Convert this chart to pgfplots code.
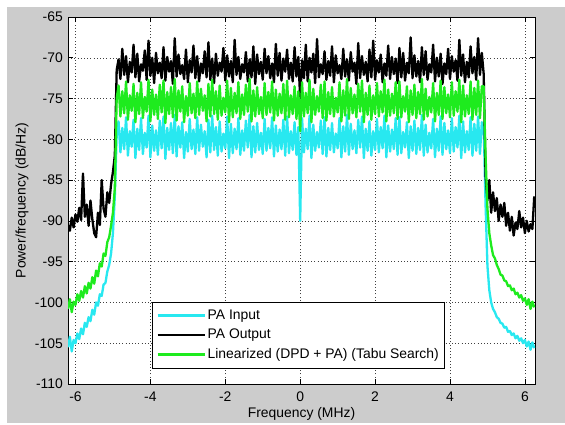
\documentclass[border=0pt]{standalone}
\usepackage{fontspec}
\setmainfont{Liberation Sans}
\usepackage{pgfplots}
\usepackage{pgfplotstable}
\pgfplotsset{compat=1.18}
\definecolor{figgray}{RGB}{204,204,204}
\definecolor{mcyan}{RGB}{40,232,240}
\definecolor{mgreen}{RGB}{30,235,30}
\newcommand{\mfont}{\fontsize{13.9bp}{16bp}\selectfont}
\pgfplotstableread{
x c b g
-6.20 -105.5 -90.5 -100.8
-6.15 -104.2 -91.2 -99.6
-6.10 -106.0 -89.6 -101.2
-6.05 -104.6 -90.8 -99.9
-6.00 -105.0 -89.2 -100.3
-5.95 -103.8 -90.1 -99.0
-5.90 -104.5 -88.4 -99.8
-5.85 -103.2 -89.9 -98.6
-5.80 -103.9 -84.2 -99.4
-5.75 -102.5 -89.5 -98.0
-5.70 -103.0 -88.0 -98.9
-5.65 -101.8 -90.6 -97.6
-5.60 -102.3 -87.5 -98.3
-5.55 -100.9 -89.8 -96.9
-5.50 -101.5 -91.5 -97.7
-5.45 -100.0 -92.0 -96.1
-5.40 -100.4 -89.0 -96.8
-5.35 -99.0 -90.5 -95.2
-5.30 -99.2 -85.0 -95.6
-5.25 -97.8 -88.5 -94.0
-5.20 -97.6 -89.5 -94.3
-5.15 -96.2 -86.5 -92.6
-5.10 -95.4 -87.8 -92.0
-5.05 -94.0 -85.5 -90.6
-5.00 -91.5 -84.0 -89.0
-4.95 -87.0 -82.0 -86.0
-4.90 -79.5 -71.5 -75.0
-4.85 -77.8 -70.2 -73.4
-4.80 -81.6 -72.6 -77.2
-4.75 -78.6 -68.9 -74.1
-4.70 -81.2 -72.1 -76.8
-4.65 -77.3 -69.8 -72.9
-4.60 -82.0 -73.0 -77.6
-4.55 -79.0 -70.5 -74.6
-4.50 -80.9 -71.8 -76.5
-4.45 -77.6 -68.4 -73.2
-4.40 -82.3 -72.4 -77.9
-4.35 -78.7 -69.5 -74.3
-4.30 -81.3 -72.9 -76.9
-4.25 -77.4 -70.8 -73.0
-4.20 -81.8 -71.6 -77.4
-4.15 -79.2 -69.1 -74.8
-4.10 -81.0 -72.7 -76.6
-4.05 -77.1 -67.9 -72.7
-4.00 -82.2 -72.2 -77.8
-3.95 -78.3 -70.0 -73.9
-3.90 -81.4 -73.1 -77.0
-3.85 -78.9 -69.4 -74.5
-3.80 -81.9 -71.9 -77.5
-3.75 -77.7 -70.6 -73.3
-3.70 -81.1 -72.5 -76.7
-3.65 -77.2 -68.7 -72.8
-3.60 -82.4 -72.8 -78.0
-3.55 -78.6 -69.9 -74.2
-3.50 -81.3 -71.7 -76.9
-3.45 -78.0 -70.4 -73.6
-3.40 -81.7 -73.2 -77.3
-3.35 -77.0 -67.6 -72.6
-3.30 -82.1 -72.3 -77.7
-3.25 -78.4 -69.6 -74.0
-3.20 -81.0 -72.0 -76.6
-3.15 -77.9 -70.9 -73.5
-3.10 -82.3 -72.6 -77.9
-3.05 -79.1 -69.0 -74.7
-3.00 -81.5 -73.0 -77.1
-2.95 -77.5 -70.3 -73.1
-2.90 -81.2 -71.8 -76.8
-2.85 -78.8 -68.5 -74.4
-2.80 -81.8 -72.5 -77.4
-2.75 -77.3 -69.8 -72.9
-2.70 -81.4 -72.9 -77.0
-2.65 -78.2 -70.7 -73.8
-2.60 -80.9 -71.9 -76.5
-2.55 -79.0 -69.2 -74.6
-2.50 -82.2 -72.4 -77.8
-2.45 -77.6 -68.1 -73.2
-2.40 -81.6 -72.7 -77.2
-2.35 -77.1 -70.1 -72.7
-2.30 -81.3 -73.1 -76.9
-2.25 -78.5 -69.5 -74.1
-2.20 -82.0 -72.2 -77.6
-2.15 -77.8 -70.6 -73.4
-2.10 -81.5 -71.7 -77.1
-2.05 -79.3 -68.8 -74.9
-2.00 -81.1 -72.8 -76.7
-1.95 -77.2 -69.7 -72.8
-1.90 -82.3 -72.3 -77.9
-1.85 -78.1 -70.4 -73.7
-1.80 -81.7 -73.0 -77.3
-1.75 -78.7 -67.8 -74.3
-1.70 -81.2 -72.1 -76.8
-1.65 -77.4 -69.9 -73.0
-1.60 -81.9 -72.6 -77.5
-1.55 -78.9 -70.8 -74.5
-1.50 -81.4 -71.8 -77.0
-1.45 -77.7 -69.3 -73.3
-1.40 -81.0 -72.9 -76.6
-1.35 -77.0 -70.2 -72.6
-1.30 -82.2 -72.4 -77.8
-1.25 -78.4 -68.6 -74.0
-1.20 -81.6 -73.2 -77.2
-1.15 -78.0 -69.6 -73.6
-1.10 -81.3 -72.0 -76.9
-1.05 -79.2 -70.5 -74.8
-1.00 -81.8 -72.7 -77.4
-0.95 -77.5 -68.9 -73.1
-0.90 -81.4 -71.9 -77.0
-0.85 -78.6 -69.8 -74.2
-0.80 -81.1 -72.5 -76.7
-0.75 -77.3 -70.7 -72.9
-0.70 -82.1 -73.0 -77.7
-0.65 -78.3 -68.3 -73.9
-0.60 -81.5 -72.2 -77.1
-0.55 -78.8 -69.4 -74.4
-0.50 -81.2 -72.8 -76.8
-0.45 -77.6 -70.1 -73.2
-0.40 -82.0 -71.7 -77.6
-0.35 -77.2 -69.0 -72.8
-0.30 -81.7 -72.6 -77.3
-0.25 -79.0 -70.6 -74.6
-0.20 -81.3 -72.9 -76.9
-0.15 -77.9 -68.7 -73.5
-0.10 -81.9 -72.3 -77.5
-0.05 -78.5 -69.9 -74.1
0.00 -90.0 -75.0 -79.0
0.05 -77.4 -70.3 -73.0
0.10 -81.6 -72.5 -77.2
0.15 -78.7 -68.4 -74.3
0.20 -81.2 -72.9 -76.8
0.25 -77.1 -70.0 -72.7
0.30 -82.3 -71.8 -77.9
0.35 -78.2 -69.5 -73.8
0.40 -81.4 -73.1 -77.0
0.45 -79.1 -67.7 -74.7
0.50 -81.0 -72.4 -76.6
0.55 -77.7 -70.8 -73.3
0.60 -81.8 -72.0 -77.4
0.65 -77.3 -69.2 -72.9
0.70 -82.1 -72.7 -77.7
0.75 -78.6 -70.4 -74.2
0.80 -81.3 -72.2 -76.9
0.85 -78.0 -68.6 -73.6
0.90 -81.6 -73.0 -77.2
0.95 -79.3 -69.7 -74.9
1.00 -81.1 -71.9 -76.7
1.05 -77.4 -70.9 -73.0
1.10 -82.2 -72.6 -77.8
1.15 -78.4 -68.9 -74.0
1.20 -81.5 -72.3 -77.1
1.25 -77.0 -70.2 -72.6
1.30 -81.9 -72.8 -77.5
1.35 -78.1 -69.3 -73.7
1.40 -81.2 -71.7 -76.8
1.45 -78.9 -70.6 -74.5
1.50 -81.7 -73.2 -77.3
1.55 -77.6 -68.2 -73.2
1.60 -81.0 -72.5 -76.6
1.65 -77.2 -69.8 -72.8
1.70 -82.3 -72.1 -77.9
1.75 -78.7 -70.5 -74.3
1.80 -81.4 -72.9 -77.0
1.85 -77.8 -69.0 -73.4
1.90 -82.0 -72.4 -77.6
1.95 -79.0 -67.9 -74.6
2.00 -81.3 -72.7 -76.9
2.05 -77.5 -70.3 -73.1
2.10 -81.6 -71.8 -77.2
2.15 -78.5 -69.6 -74.1
2.20 -81.1 -73.0 -76.7
2.25 -77.1 -70.7 -72.7
2.30 -82.2 -72.2 -77.8
2.35 -78.3 -68.5 -73.9
2.40 -81.5 -72.6 -77.1
2.45 -78.8 -69.9 -74.4
2.50 -81.2 -72.0 -76.8
2.55 -77.4 -70.1 -73.0
2.60 -81.9 -73.1 -77.5
2.65 -77.3 -68.8 -72.9
2.70 -81.7 -72.4 -77.3
2.75 -79.1 -69.4 -74.7
2.80 -81.0 -72.8 -76.6
2.85 -77.9 -70.6 -73.5
2.90 -82.3 -71.9 -77.9
2.95 -78.4 -67.5 -74.0
3.00 -81.4 -72.5 -77.0
3.05 -77.7 -69.7 -73.3
3.10 -81.8 -72.3 -77.4
3.15 -78.6 -70.4 -74.2
3.20 -81.3 -73.0 -76.9
3.25 -77.0 -68.7 -72.6
3.30 -82.0 -72.1 -77.6
3.35 -78.2 -69.2 -73.8
3.40 -81.6 -72.7 -77.2
3.45 -79.2 -70.8 -74.8
3.50 -81.1 -71.8 -76.7
3.55 -77.5 -68.4 -73.1
3.60 -82.2 -72.9 -77.8
3.65 -78.7 -70.0 -74.3
3.70 -81.4 -72.3 -77.0
3.75 -77.2 -69.5 -72.8
3.80 -81.9 -73.2 -77.5
3.85 -78.0 -70.7 -73.6
3.90 -81.2 -72.0 -76.8
3.95 -78.9 -68.9 -74.5
4.00 -81.7 -72.6 -77.3
4.05 -77.4 -69.8 -73.0
4.10 -81.5 -71.7 -77.1
4.15 -78.5 -70.3 -74.1
4.20 -81.0 -72.8 -76.6
4.25 -77.1 -67.8 -72.7
4.30 -82.3 -72.2 -77.9
4.35 -77.8 -69.6 -73.4
4.40 -81.6 -73.0 -77.2
4.45 -79.0 -70.5 -74.6
4.50 -81.3 -72.4 -76.9
4.55 -77.3 -68.6 -72.9
4.60 -82.0 -71.9 -77.6
4.65 -78.1 -69.9 -73.7
4.70 -81.4 -72.7 -77.0
4.75 -77.2 -67.6 -72.8
4.80 -81.8 -72.1 -77.4
4.85 -77.9 -69.4 -73.5
4.90 -78.5 -72.0 -73.5
4.95 -88.0 -84.5 -82.0
5.00 -95.5 -87.5 -88.5
5.05 -98.5 -85.0 -91.5
5.10 -100.0 -89.0 -93.0
5.15 -100.8 -86.5 -94.2
5.20 -101.2 -88.8 -94.6
5.25 -101.8 -87.2 -95.4
5.30 -102.0 -90.0 -95.9
5.35 -102.5 -88.0 -96.6
5.40 -102.6 -89.5 -96.7
5.45 -103.1 -87.8 -97.3
5.50 -103.0 -90.6 -97.4
5.55 -103.6 -89.0 -98.0
5.60 -103.5 -91.2 -97.9
5.65 -104.0 -89.5 -98.5
5.70 -103.8 -91.8 -98.3
5.75 -104.4 -90.2 -99.0
5.80 -104.1 -91.0 -98.8
5.85 -104.7 -88.8 -99.4
5.90 -104.4 -90.8 -99.1
5.95 -105.0 -89.6 -99.8
6.00 -104.6 -91.5 -99.5
6.05 -105.4 -90.0 -100.3
6.10 -104.8 -91.3 -99.6
6.15 -105.8 -90.4 -100.8
6.20 -104.9 -91.0 -99.9
6.25 -105.6 -87.0 -100.6
}\psd
\begin{document}
\begin{tikzpicture}
\fill[white] (0bp,0bp) rectangle (565bp,423bp);
\fill[figgray] (7bp,0bp) rectangle (565bp,416bp);
\begin{axis}[
  at={(68bp,39bp)}, anchor=south west,
  scale only axis, width=467bp, height=367bp,
  xmin=-6.2, xmax=6.27, ymin=-110, ymax=-65,
  xtick={-6,-4,-2,0,2,4,6},
  ytick={-110,-105,-100,-95,-90,-85,-80,-75,-70,-65},
  axis background/.style={fill=white},
  grid=major,
  major grid style={black!75, line width=0.5bp, dash pattern=on 1bp off 2.2bp},
  axis line style={black, line width=0.7bp},
  tick align=inside, major tick length=5bp,
  tick style={black, line width=0.6bp},
  /pgf/number format/assume math mode=true,
  tick label style={font=\mfont},
  xticklabel style={anchor=north, inner sep=0pt, yshift=-8bp},
  yticklabel style={anchor=east, inner sep=0pt, xshift=-5bp},
  xlabel={Frequency (MHz)},
  ylabel={Power/frequency (dB/Hz)},
  label style={font=\mfont},
  xlabel style={at={(axis description cs:0.5,-0.0926)}, anchor=base},
  ylabel style={at={(axis description cs:-0.0985,0.5)}, anchor=center},
  legend cell align=left,
  legend style={at={(0.1799,0.2234)}, anchor=north west, draw=black,
    line width=0.7bp, fill=white, inner xsep=4bp, inner ysep=3.5bp,
    font=\mfont, row sep=0pt,
    nodes={text height=10bp, text depth=3bp, inner xsep=2bp, inner ysep=3.25bp}},
  legend image code/.code={\path (0bp,0bp) -- (47bp,0bp);
    \draw[#1, line width=1.8bp] (4bp,0bp) -- (44bp,0bp);},
  every axis plot/.append style={line width=2.3bp, line join=round},
]
\addplot[mcyan] table[x=x, y=c] {\psd};
\addplot[black] table[x=x, y=b] {\psd};
\addplot[mgreen] table[x=x, y=g] {\psd};
\legend{PA Input, PA Output, Linearized (DPD + PA) (Tabu Search)}
\end{axis}
\end{tikzpicture}
\end{document}
